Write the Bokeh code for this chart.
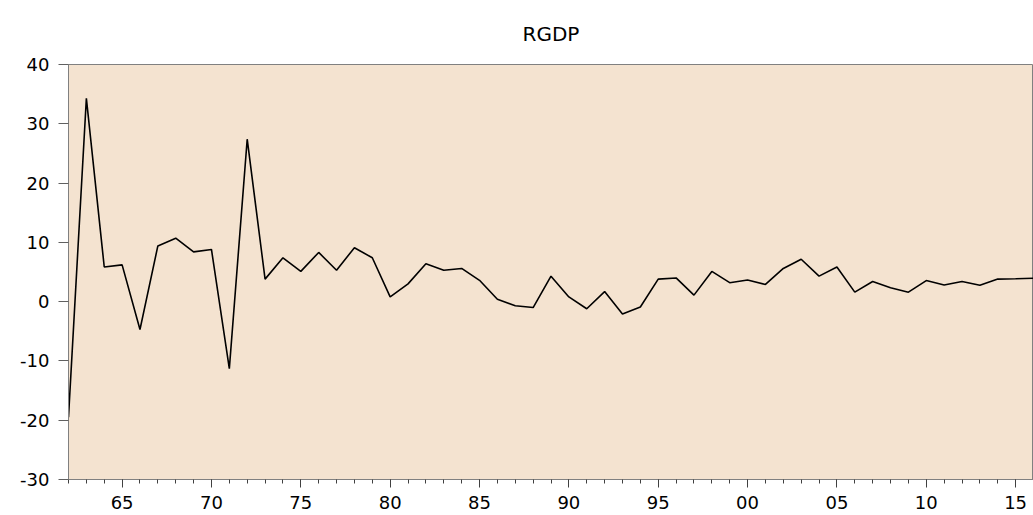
from bokeh.plotting import figure
from bokeh.models import Range1d, FixedTicker
from bokeh.embed import file_html
from bokeh.resources import INLINE

years = list(range(1962, 2017))
rgdp = [-19.5, 34.3, 5.85, 6.2, -4.7, 9.4, 10.7, 8.4, 8.8, -11.3,
        27.4, 3.8, 7.4, 5.1, 8.3, 5.3, 9.1, 7.4, 0.8, 3.0,
        6.4, 5.3, 5.6, 3.6, 0.4, -0.7, -1.0, 4.3, 0.8, -1.2,
        1.7, -2.1, -0.9, 3.8, 4.0, 1.1, 5.1, 3.2, 3.65, 2.9,
        5.6, 7.15, 4.3, 5.85, 1.6, 3.4, 2.35, 1.6, 3.55, 2.8,
        3.4, 2.75, 3.8, 3.85, 3.95]
major_years = [1965, 1970, 1975, 1980, 1985, 1990, 1995, 2000, 2005, 2010, 2015]
major_labels = ["65", "70", "75", "80", "85", "90", "95", "00", "05", "10", "15"]
y_ticks = [-30, -20, -10, 0, 10, 20, 30, 40]
y_labels = ["-30", "-20", "-10", "0", "10", "20", "30", "40"]
title_text = "RGDP"

FONT = "DejaVu Sans"

p = figure(width=1033, height=515, output_backend="svg", toolbar_location=None,
           x_range=Range1d(1962, 2016), y_range=Range1d(-30, 40),
           min_border_left=68, min_border_right=0, min_border_top=64, min_border_bottom=36)

p.title.text = title_text
p.title.align = "center"
p.title.text_font = FONT
p.title.text_font_size = "20px"
p.title.text_font_style = "normal"
p.title.text_color = "#000000"
p.title.standoff = 38

p.background_fill_color = "#F4E3D0"
p.border_fill_color = "white"
p.outline_line_color = "#808080"
p.outline_line_width = 1
p.grid.visible = False

p.line(years, rgdp, line_color="black", line_width=1.6)

xa = p.xaxis[0]
xa.ticker = FixedTicker(ticks=major_years, minor_ticks=years)
xa.major_label_overrides = {y: l for y, l in zip(major_years, major_labels)}
xa.major_tick_out = 8
xa.major_tick_in = 0
xa.minor_tick_out = 4
xa.minor_tick_in = 0
xa.axis_line_color = "#808080"
xa.major_tick_line_color = "#404040"
xa.minor_tick_line_color = "#404040"
xa.major_label_text_font = FONT
xa.major_label_text_font_size = "18px"
xa.major_label_text_color = "black"
xa.major_label_standoff = 8

ya = p.yaxis[0]
ya.ticker = FixedTicker(ticks=y_ticks, minor_ticks=[])
ya.major_label_overrides = {t: l for t, l in zip(y_ticks, y_labels)}
ya.major_tick_out = 10
ya.major_tick_in = 0
ya.minor_tick_out = 0
ya.minor_tick_in = 0
ya.axis_line_color = "#808080"
ya.major_tick_line_color = "#606060"
ya.major_label_text_font = FONT
ya.major_label_text_font_size = "18px"
ya.major_label_text_color = "black"
ya.major_label_standoff = 9

open("out.html", "w").write(file_html(p, INLINE))
